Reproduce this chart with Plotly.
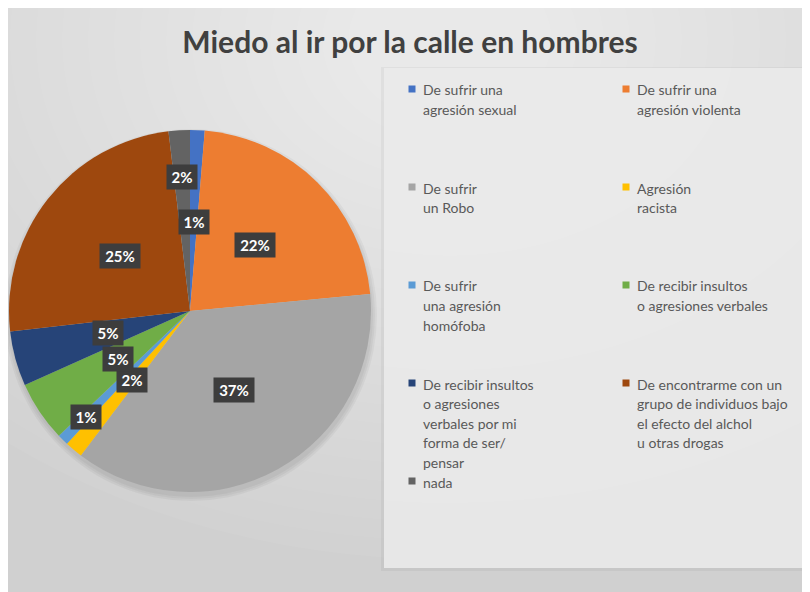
import math
import plotly.graph_objects as go

# ---------------- data ----------------
categories = [
    "De sufrir una<br>agresión sexual",
    "De sufrir una<br>agresión violenta",
    "De sufrir<br>un Robo",
    "Agresión<br>racista",
    "De sufrir<br>una agresión<br>homófoba",
    "De recibir insultos<br>o agresiones verbales",
    "De recibir insultos<br>o agresiones<br>verbales por mi<br>forma de ser/<br>pensar",
    "De encontrarme con un<br>grupo de individuos bajo<br>el efecto del alchol<br>u otras drogas",
    "nada",
]
values = [1.3, 22.2, 36.8, 1.6, 1.0, 5.4, 4.9, 24.9, 1.9]
colors = ["#4472C4", "#ED7D31", "#A5A5A5", "#FFC000", "#5B9BD5",
          "#70AD47", "#264478", "#9E480E", "#636363"]
title_text = "Miedo al ir por la calle en hombres"

# label radial placement (fraction of radius)
label_radius = [0.49, 0.51, 0.5, 0.5, 0.82, 0.48, 0.47, 0.49, 0.74]

W, H = 810, 592
OX, OY = 8, 8   # page body margin: figure origin on screen


def fx(x):
    return (x - OX) / W


def fy(y):
    return 1 - (y - OY) / H


# pie placement in screen pixels
px0, px1 = 9, 371
py0, py1 = 130, 492
cx, cy = (px0 + px1) / 2, (py0 + py1) / 2
R = (px1 - px0) / 2

FONT = "Lato, Open Sans, sans-serif"

fig = go.Figure()
fig.add_trace(go.Pie(
    labels=[c.replace("<br>", " ") for c in categories],
    values=values,
    sort=False,
    direction="clockwise",
    rotation=0,
    marker=dict(colors=colors, line=dict(width=0)),
    textinfo="none",
    hoverinfo="label+percent",
    domain=dict(x=[fx(px0), fx(px1)], y=[fy(py1), fy(py0)]),
    showlegend=False,
))

# data labels (dark boxes) computed from the slice angles
total = sum(values)
cum = 0.0
annotations = []
for v, f in zip(values, label_radius):
    mid = (cum + v / 2) / total * 2 * math.pi
    cum += v
    x = cx + f * R * math.sin(mid)
    y = cy - f * R * math.cos(mid)
    txt = f"{round(v / total * 100)}%"
    annotations.append(dict(
        x=fx(x), y=fy(y), xref="paper", yref="paper",
        xanchor="center", yanchor="middle",
        text=f"<b>{txt}</b>", showarrow=False,
        font=dict(family=FONT, size=15, color="white"),
        bgcolor="#3d3d3d", borderpad=3, width=10 * len(txt) + 4, height=18,
    ))

shapes = []
# base background
shapes.append(dict(type="rect", xref="paper", yref="paper", layer="below",
                   x0=0, x1=1, y0=0, y1=1,
                   fillcolor="#d0d0d0", line=dict(width=0)))
# radial lightening toward top centre
N = 24
ex, ey = 450, 40
for i in range(N):
    rx = 700 - i * 26
    ry = 520 - i * 19
    shapes.append(dict(type="circle", xref="paper", yref="paper", layer="below",
                       x0=fx(ex - rx), x1=fx(ex + rx),
                       y0=fy(ey + ry), y1=fy(ey - ry),
                       fillcolor="rgba(255,255,255,0.045)", line=dict(width=0)))
# legend panel shadow + panel
shapes.append(dict(type="rect", xref="paper", yref="paper", layer="below",
                   x0=fx(381), x1=1, y0=fy(571), y1=fy(67),
                   fillcolor="rgba(0,0,0,0.04)", line=dict(width=0)))
shapes.append(dict(type="rect", xref="paper", yref="paper", layer="below",
                   x0=fx(384), x1=1, y0=fy(568), y1=fy(68),
                   fillcolor="rgba(236,236,236,0.85)", line=dict(width=0)))
# soft pie shadow
for i in range(3):
    r = R + 1 + i * 2
    shapes.append(dict(type="circle", xref="paper", yref="paper", layer="below",
                       x0=fx(cx + 1 - r), x1=fx(cx + 1 + r),
                       y0=fy(cy + 4 + r), y1=fy(cy + 4 - r),
                       fillcolor="rgba(0,0,0,0.04)", line=dict(width=0)))

# ---- legend: two-column grid (Excel style) ----
col_x = [412, 626]          # marker centre x per column
text_dx = 9                 # gap marker centre -> text start
row_y0, row_pitch = 90, 98  # first-line centre y, row pitch
line_h = 19.5
msz = 7
for i, (lab, col) in enumerate(zip(categories, colors)):
    row, c = divmod(i, 2)
    mx = col_x[c]
    my = row_y0 + row * row_pitch
    shapes.append(dict(type="rect", xref="paper", yref="paper", layer="above",
                       x0=fx(mx - msz / 2), x1=fx(mx + msz / 2),
                       y0=fy(my - 1 + msz / 2), y1=fy(my - 1 - msz / 2),
                       fillcolor=col, line=dict(width=0)))
    for k, line in enumerate(lab.split("<br>")):
        annotations.append(dict(
            x=fx(mx + text_dx), y=fy(my + k * line_h),
            xref="paper", yref="paper", xanchor="left", yanchor="middle",
            text=line, showarrow=False,
            font=dict(family=FONT, size=14, color="#595959"),
        ))

fig.update_layout(
    width=W, height=H,
    margin=dict(l=0, r=0, t=0, b=0),
    paper_bgcolor="#d0d0d0",
    plot_bgcolor="#d0d0d0",
    showlegend=False,
    title=dict(text=title_text, x=fx(410), xanchor="center", y=fy(42), yanchor="middle",
               font=dict(family=FONT, size=30, color="#404040", weight="bold")),
    shapes=shapes,
    annotations=annotations,
)

fig.write_html("out.html")
